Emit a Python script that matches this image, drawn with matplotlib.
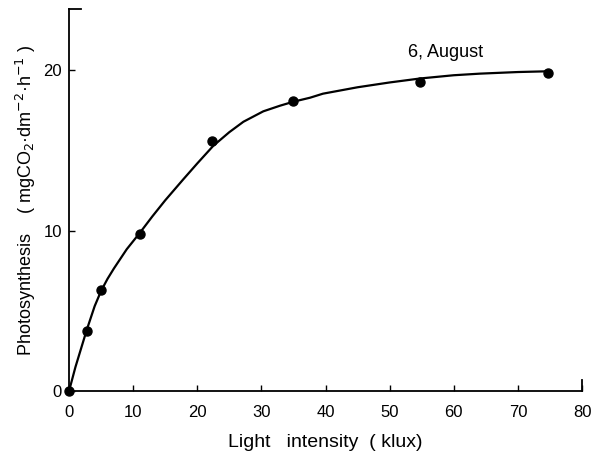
import matplotlib
matplotlib.use('Agg')
import matplotlib.pyplot as plt

# measured points (light intensity klux, photosynthesis)
light = [0, 2.8, 5.0, 11.1, 22.3, 35.0, 54.8, 74.7]
photo = [0, 3.75, 6.3, 9.8, 15.6, 18.1, 19.3, 19.85]

# fitted curve
curve_x = [0, 1.0, 2.75, 4.0, 5.0, 6.0, 7.0, 9.0, 11.1, 13.0, 15.0, 17.8, 20.0, 22.5, 25.0, 27.2, 30.3, 32.9, 35.0, 37.6, 39.6, 45.0, 50.0, 54.8, 60.0, 64.1, 70.0, 75.0]
curve_y = [0, 1.5, 3.8, 5.3, 6.25, 7.0, 7.65, 8.85, 9.9, 10.9, 11.9, 13.2, 14.2, 15.3, 16.15, 16.8, 17.45, 17.8, 18.05, 18.3, 18.55, 18.95, 19.25, 19.5, 19.7, 19.8, 19.9, 19.95]

xticks = [0, 10, 20, 30, 40, 50, 60, 70, 80]
yticks = [0, 10, 20]

plt.rcParams['font.family'] = ['Liberation Sans', 'DejaVu Sans']

fig = plt.figure(figsize=(6.0, 4.57), dpi=100)
ax = fig.add_axes([0.115, 0.144, 0.855, 0.837])

ax.plot(curve_x, curve_y, color='black', lw=1.6, solid_capstyle='round', solid_joinstyle='round')
ax.plot(light, photo, 'o', color='black', ms=6.5, clip_on=False, zorder=3)

ax.set_xlim(0, 80)
ax.set_ylim(0, 23.85)
ax.set_xticks(xticks)
ax.set_yticks(yticks)
ax.tick_params(direction='in', length=4, width=1, labelsize=12)
ax.tick_params(axis='x', pad=10)
ax.tick_params(axis='y', pad=5)

for s in ['top', 'right']:
    ax.spines[s].set_visible(False)
for s in ['left', 'bottom']:
    ax.spines[s].set_linewidth(1.3)

# little end marks at the axis ends
ax.plot([0, 0.024], [1, 1], color='black', lw=1.3, transform=ax.transAxes, clip_on=False)
ax.plot([1, 1], [0, 0.028], color='black', lw=1.3, transform=ax.transAxes, clip_on=False)

ax.set_xlabel('Light   intensity  ( klux)', fontsize=14, labelpad=10)
ax.set_ylabel('Photosynthesis    ( mgCO$_2$·dm$^{-2}$·h$^{-1}$ )', fontsize=13, labelpad=4)

ax.text(52.9, 21.1, '6, August', fontsize=13, va='center', ha='left')

fig.savefig('out.png', dpi=100)
